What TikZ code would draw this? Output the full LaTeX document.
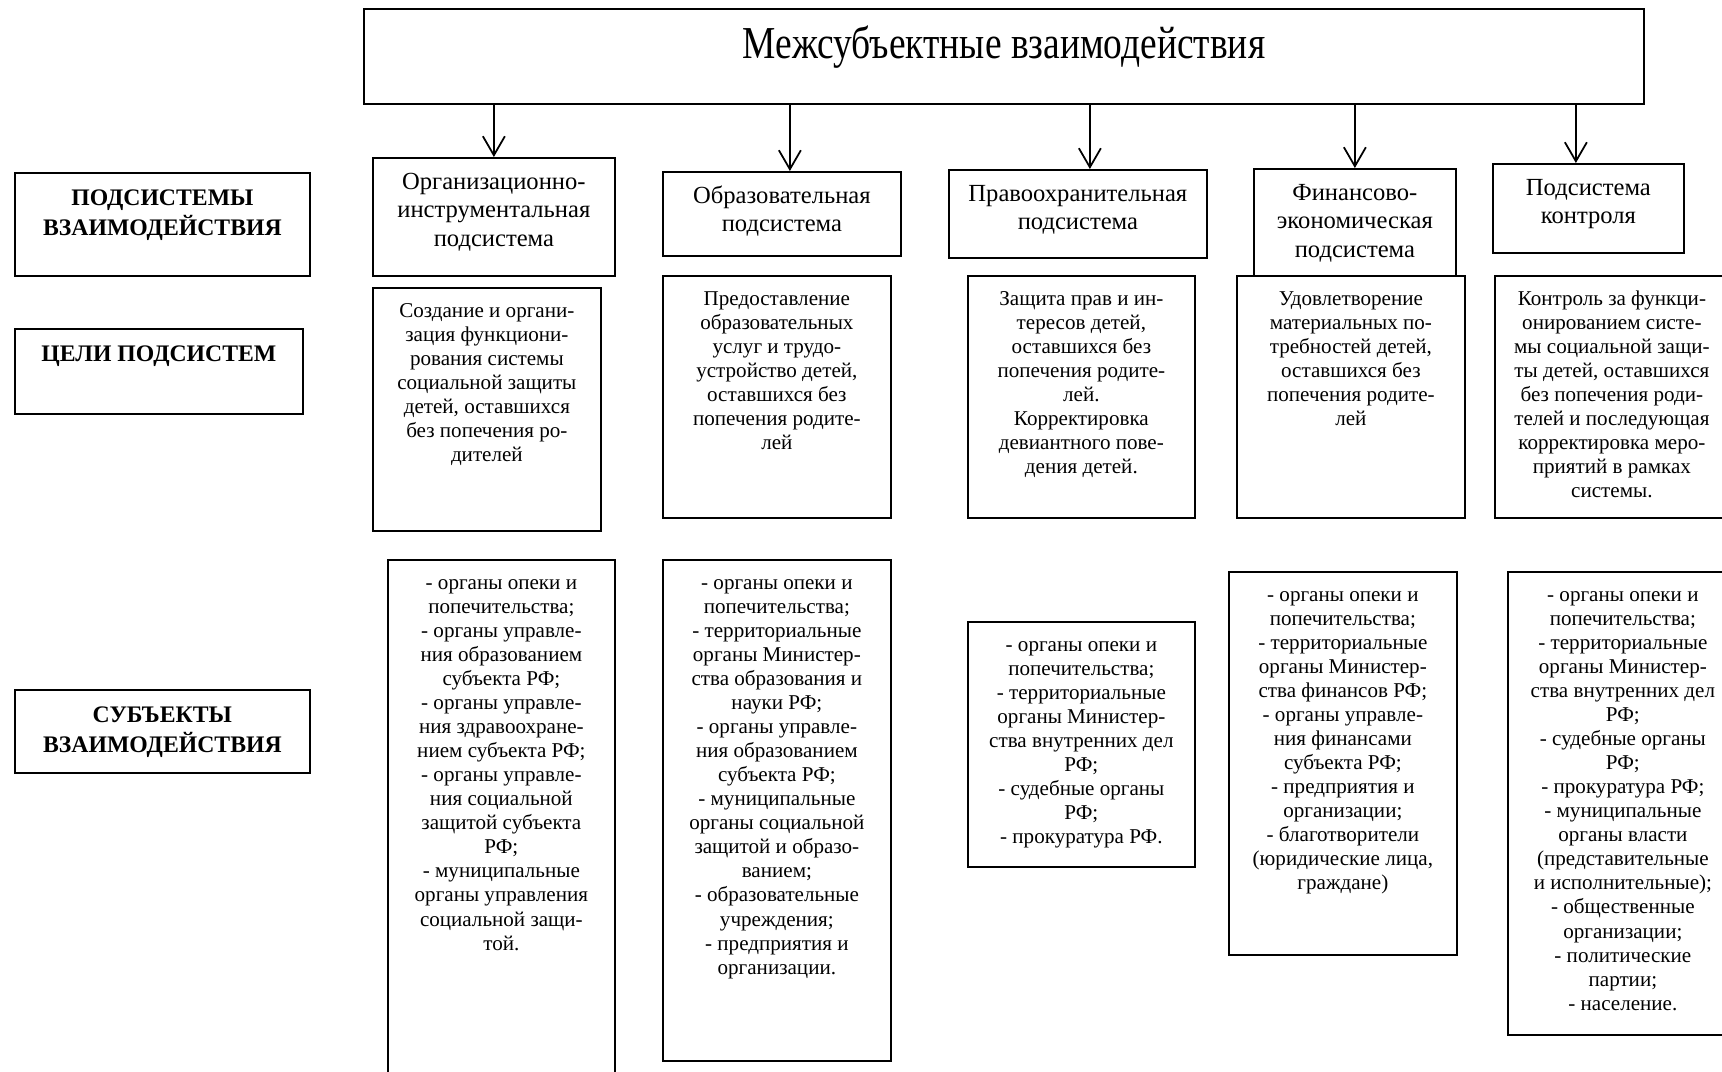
\documentclass[tikz,border=0pt]{standalone}
\usepackage{fontspec}
\setmainfont{Liberation Serif}
\newfontfamily\titlefont[FakeStretch=0.82]{Liberation Serif}
\usetikzlibrary{arrows.meta}

\newlength{\boxpad}
\setlength{\boxpad}{7pt}
% text box of W x H pixels, text from the top
\newcommand{\inbox}[3]{\parbox[t][\dimexpr0.02cm*#2\relax][t]{\dimexpr0.02cm*#1\relax}{\centering\vspace*{\boxpad}\strut#3}}

\begin{document}
\begin{tikzpicture}[x=0.02cm, y=-0.02cm,
        box/.style={draw, line width=1pt, inner sep=0pt, anchor=north west},
        maintitle/.style={box, font=\titlefont\fontsize{26}{30}\selectfont},
        rowname/.style={box, font=\bfseries\fontsize{13.5}{16.4}\selectfont},
        subsys/.style={box, font=\fontsize{14}{16}\selectfont},
        goalbox/.style={box, font=\fontsize{12}{13.7}\selectfont},
        arr/.style={-{Straight Barb[length=0.38cm,width=0.44cm]}, line width=1pt}]
        \useasboundingbox (0,0) rectangle (1722,1072);
        % top
        \node[maintitle] (title) at (363,8) {\inbox{1280}{95}{Межсубъектные взаимодействия}};
        % row names
        \node[rowname] (rsub) at (14,172) {\inbox{295}{103}{ПОДСИСТЕМЫ\\ВЗАИМОДЕЙСТВИЯ}};
        \node[rowname] (rgoal) at (14,328) {\inbox{288}{85}{ЦЕЛИ ПОДСИСТЕМ}};
        \node[rowname] (rsubj) at (14,689) {\inbox{295}{83}{СУБЪЕКТЫ\\ВЗАИМОДЕЙСТВИЯ}};
        % subsystems
        \node[subsys] (sub1) at (372,157) {\inbox{242}{118}{Организационно-\\инструментальная\\подсистема}};
        \node[subsys] (sub2) at (662,171) {\inbox{238}{84}{Образовательная\\подсистема}};
        \node[subsys] (sub3) at (948,169) {\inbox{258}{88}{Правоохранительная\\подсистема}};
        \node[subsys] (sub4) at (1253,168) {\inbox{202}{107}{Финансово-\\экономическая\\подсистема}};
        \node[subsys] (sub5) at (1492,163) {\inbox{191}{89}{Подсистема\\контроля}};
        \draw[arr] (title.south -| sub1.north) -- (sub1.north);
        \draw[arr, transform canvas={xshift=0.16cm}] (title.south -| sub2.north) -- (sub2.north);
        \draw[arr, transform canvas={xshift=0.24cm}] (title.south -| sub3.north) -- (sub3.north);
        \draw[arr] (title.south -| sub4.north) -- (sub4.north);
        \draw[arr, transform canvas={xshift=-0.25cm}] (title.south -| sub5.north) -- (sub5.north);
        % goals
        \node[goalbox] (goal1) at (372,287) {\inbox{228}{243}{Создание и органи-\\зация функциони-\\рования системы\\социальной защиты\\детей, оставшихся\\без попечения ро-\\дителей}};
        \node[goalbox] (goal2) at (662,275) {\inbox{228}{242}{Предоставление\\образовательных\\услуг и трудо-\\устройство детей,\\оставшихся без\\попечения родите-\\лей}};
        \node[goalbox] (goal3) at (967,275) {\inbox{227}{242}{Защита прав и ин-\\тересов детей,\\оставшихся без\\попечения родите-\\лей.\\Корректировка\\девиантного пове-\\дения детей.}};
        \node[goalbox] (goal4) at (1236,275) {\inbox{228}{242}{Удовлетворение\\материальных по-\\требностей детей,\\оставшихся без\\попечения родите-\\лей}};
        \node[goalbox] (goal5) at (1494,275) {\inbox{234}{242}{Контроль за функци-\\онированием систе-\\мы социальной защи-\\ты детей, оставшихся\\без попечения роди-\\телей и последующая\\корректировка меро-\\приятий в рамках\\системы.}};
        % subjects
        \node[goalbox] (subj1) at (387,559) {\inbox{227}{530}{- органы опеки и\\попечительства;\\- органы управле-\\ния образованием\\субъекта РФ;\\- органы управле-\\ния здравоохране-\\нием субъекта РФ;\\- органы управле-\\ния социальной\\защитой субъекта\\РФ;\\- муниципальные\\органы управления\\социальной защи-\\той.}};
        \node[goalbox] (subj2) at (662,559) {\inbox{228}{501}{- органы опеки и\\попечительства;\\- территориальные\\органы Министер-\\ства образования и\\науки РФ;\\- органы управле-\\ния образованием\\субъекта РФ;\\- муниципальные\\органы социальной\\защитой и образо-\\ванием;\\- образовательные\\учреждения;\\- предприятия и\\организации.}};
        \node[goalbox] (subj3) at (967,621) {\inbox{227}{245}{- органы опеки и\\попечительства;\\- территориальные\\органы Министер-\\ства внутренних дел\\РФ;\\- судебные органы\\РФ;\\- прокуратура РФ.}};
        \node[goalbox] (subj4) at (1228,571) {\inbox{228}{383}{- органы опеки и\\попечительства;\\- территориальные\\органы Министер-\\ства финансов РФ;\\- органы управле-\\ния финансами\\субъекта РФ;\\- предприятия и\\организации;\\- благотворители\\(юридические лица,\\граждане)}};
        \node[goalbox] (subj5) at (1507,571) {\inbox{230}{463}{- органы опеки и\\попечительства;\\- территориальные\\органы Министер-\\ства внутренних дел\\РФ;\\- судебные органы\\РФ;\\- прокуратура РФ;\\- муниципальные\\органы власти\\(представительные\\и исполнительные);\\- общественные\\организации;\\- политические\\партии;\\- население.}};
\end{tikzpicture}
\end{document}
